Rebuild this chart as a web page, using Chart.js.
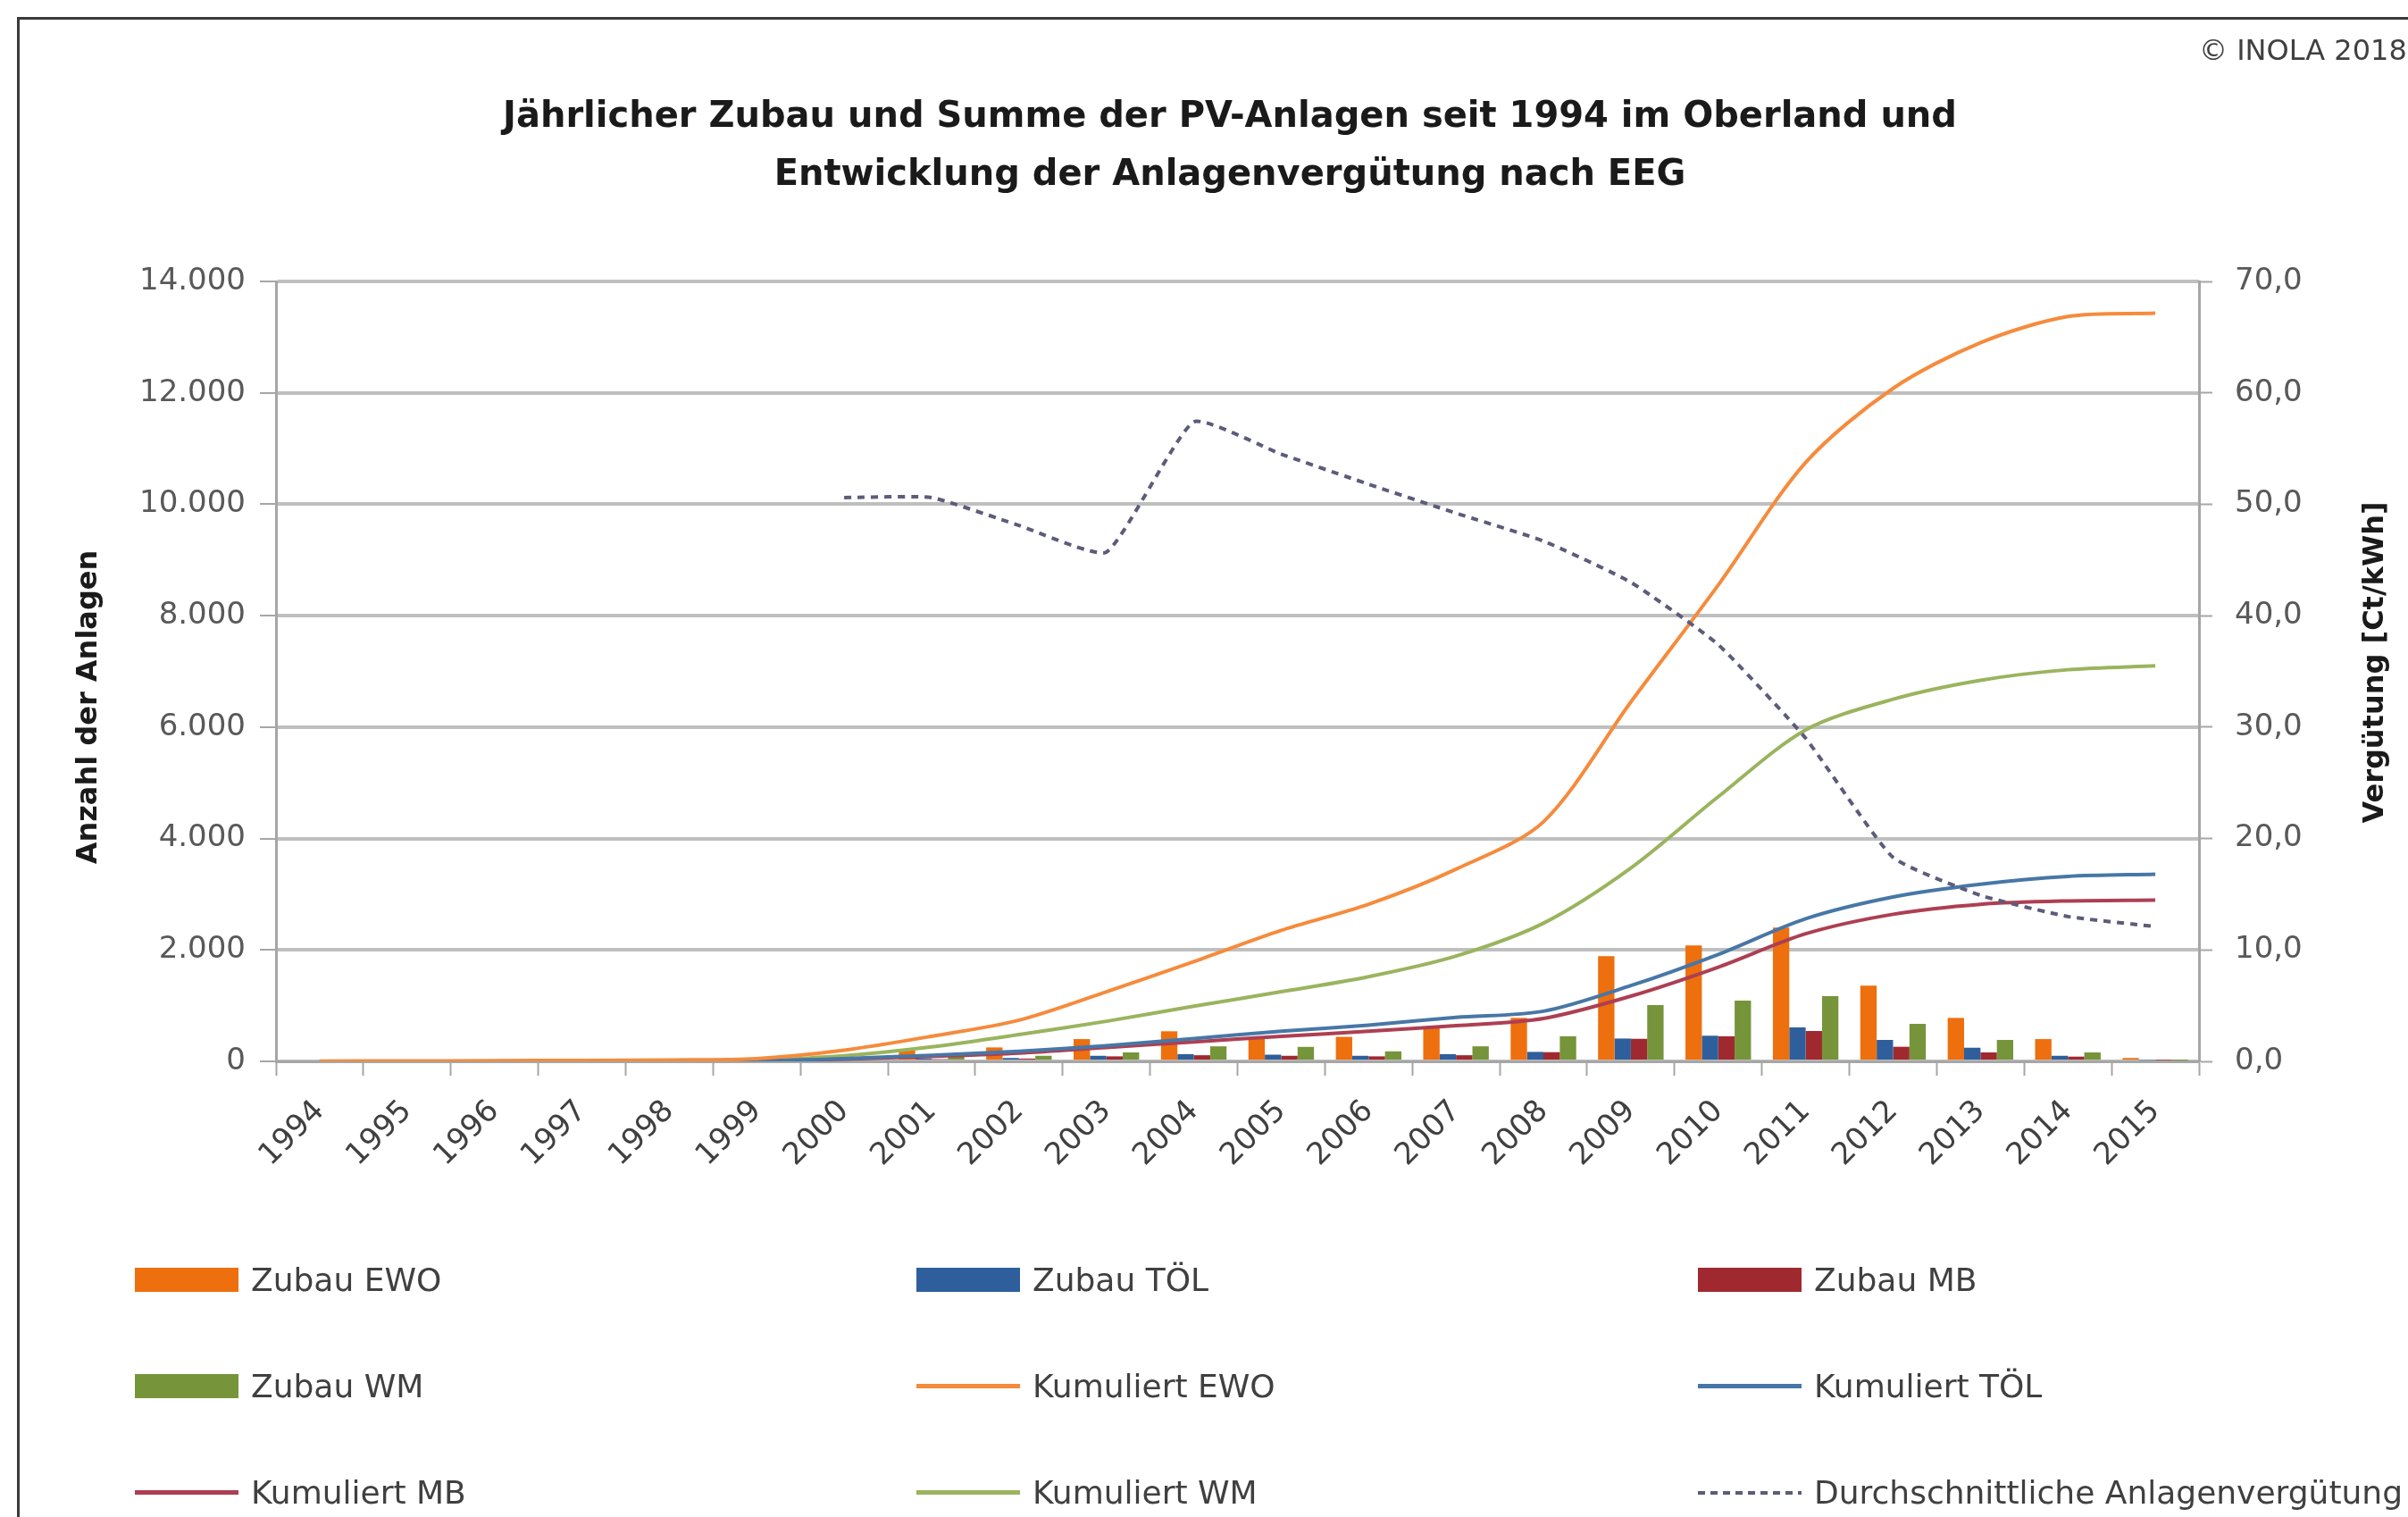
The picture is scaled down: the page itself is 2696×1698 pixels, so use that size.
<!DOCTYPE html>
<html lang="de">
<head>
<meta charset="utf-8">
<title>PV-Anlagen im Oberland</title>
<script src="https://cdn.jsdelivr.net/npm/chart.js@4.4.1/dist/chart.umd.min.js"></script>
<style>
  html, body { margin: 0; padding: 0; background: #fff; }
  body { width: 2696px; height: 1698px; position: relative; overflow: hidden; font-family: "DejaVu Sans", sans-serif; }
  .frame { position: absolute; left: 19px; top: 19px; width: 3000px; height: 3000px; border-top: 3px solid #3a3a3a; border-left: 3px solid #3a3a3a; }
  #pv-chart { position: absolute; left: 0; top: 0; }
  .copyright { position: absolute; left: 2462px; top: 37px; font-size: 32px; color: #404040; white-space: nowrap; }
  .legend { position: absolute; left: 151px; top: 1373px; display: grid; grid-template-columns: repeat(3, 875px); grid-auto-rows: 119px; }
  .legend .item { display: flex; align-items: center; }
  .legend .mark { width: 116px; margin-right: 14px; flex: none; }
  .legend .mark.bar { height: 27px; }
  .legend .mark.line { height: 5px; }
  .legend .mark.dash { height: 4px; background: repeating-linear-gradient(90deg, currentColor 0 8px, transparent 8px 14px); }
  .legend .label { font-size: 36px; color: #404040; white-space: nowrap; }
</style>
</head>
<body>
<div class="frame"></div>
<canvas id="pv-chart" width="2696" height="1698"></canvas>
<div class="copyright">© INOLA 2018</div>
<div class="legend" id="legend"></div>

<script>
const years = ["1994", "1995", "1996", "1997", "1998", "1999", "2000", "2001", "2002", "2003", "2004",
  "2005", "2006", "2007", "2008", "2009", "2010", "2011", "2012", "2013", "2014", "2015"];

// jaehrlicher Zubau
const zubauEWO = [0, 0, 0, 0, 0, 0, 100, 200, 250, 400, 540, 420, 440, 610, 780, 1890, 2080, 2400, 1360, 780, 400, 60];
const zubauTOEL = [0, 0, 0, 0, 0, 0, 30, 50, 60, 100, 130, 120, 100, 130, 170, 410, 460, 610, 385, 245, 100, 25];
const zubauMB = [0, 0, 0, 0, 0, 0, 30, 40, 50, 90, 110, 100, 90, 110, 165, 405, 450, 545, 262, 160, 85, 20];
const zubauWM = [0, 0, 0, 0, 0, 0, 60, 80, 100, 160, 270, 260, 180, 270, 450, 1010, 1090, 1170, 673, 385, 160, 15];

// kumuliert
const kumEWO = [5, 8, 12, 18, 26, 50, 200, 450, 740, 1250, 1790, 2350, 2820, 3450, 4300, 6450, 8550, 10750, 12080, 12900, 13370, 13430];
const kumTOEL = [0, 0, 0, 0, 5, 10, 50, 110, 180, 280, 410, 540, 650, 790, 900, 1360, 1920, 2560, 2950, 3180, 3320, 3360];
const kumMB = [0, 0, 0, 0, 3, 8, 40, 90, 150, 250, 350, 450, 540, 640, 770, 1170, 1690, 2290, 2640, 2820, 2880, 2895];
const kumWM = [0, 0, 0, 0, 5, 15, 100, 260, 480, 720, 990, 1250, 1520, 1890, 2480, 3470, 4750, 5950, 6500, 6840, 7030, 7100];

// Ct/kWh, rechte Achse
const verguetung = [null, null, null, null, null, null, 50.6, 50.6, 48.1, 45.7, 57.4, 54.5, 51.8, 49.2, 46.7, 43.0, 37.4, 29.0, 18.3, 14.9, 13.0, 12.1];

const titleLines = ["Jährlicher Zubau und Summe der PV-Anlagen seit 1994 im Oberland und", "Entwicklung der Anlagenvergütung nach EEG"];
const leftAxisTitle = "Anzahl der Anlagen";
const rightAxisTitle = "Vergütung [Ct/kWh]";

const tickFont = { family: "DejaVu Sans", size: 34 };
const axisGray = "#A6A6A6";

function formatThousands(v) {
  return String(v).replace(/\B(?=(\d{3})+(?!\d))/g, ".");
}

const axisTitlePlugin = {
  id: "axisTitles",
  afterDraw(chart) {
    const { ctx, chartArea } = chart;
    const midY = (chartArea.top + chartArea.bottom) / 2;
    const draw = (text, x, y) => {
      ctx.save();
      ctx.translate(x, y);
      ctx.rotate(-Math.PI / 2);
      ctx.fillText(text, 0, 0);
      ctx.restore();
    };
    ctx.save();
    ctx.font = "bold 32px 'DejaVu Sans'";
    ctx.fillStyle = "#1a1a1a";
    ctx.textAlign = "center";
    ctx.textBaseline = "middle";
    draw(leftAxisTitle, chartArea.left - 209, midY + 40);
    draw(rightAxisTitle, chartArea.right + 198, midY - 10);
    ctx.restore();
  },
};

function barSet(label, data, color) {
  return { type: "bar", label, data, backgroundColor: color, borderWidth: 0, order: 3, yAxisID: "y" };
}

function lineSet(label, data, color) {
  return {
    type: "line", label, data, borderColor: color, backgroundColor: color,
    borderWidth: 4, pointRadius: 0, tension: 0.3, order: 1, yAxisID: "y",
  };
}

function buildLegend(chart) {
  const box = document.getElementById("legend");
  box.innerHTML = chart.data.datasets
    .map((ds) => {
      let marker;
      if (ds.type === "bar") {
        marker = `<span class="mark bar" style="background:${ds.backgroundColor}"></span>`;
      } else if (ds.borderDash) {
        marker = `<span class="mark dash" style="color:${ds.borderColor}"></span>`;
      } else {
        marker = `<span class="mark line" style="background:${ds.borderColor}"></span>`;
      }
      return `<div class="item">${marker}<span class="label">${ds.label}</span></div>`;
    })
    .join("");
}

const ctx = document.getElementById("pv-chart").getContext("2d");
const chart = new Chart(ctx, {
  type: "bar",
  data: {
    labels: years,
    datasets: [
      barSet("Zubau EWO", zubauEWO, "#EE6F0E"),
      barSet("Zubau TÖL", zubauTOEL, "#2E5F9C"),
      barSet("Zubau MB", zubauMB, "#A0292F"),
      barSet("Zubau WM", zubauWM, "#76953A"),
      lineSet("Kumuliert EWO", kumEWO, "#F58B3C"),
      lineSet("Kumuliert TÖL", kumTOEL, "#4777A6"),
      lineSet("Kumuliert MB", kumMB, "#AD3F52"),
      lineSet("Kumuliert WM", kumWM, "#9AB45E"),
      {
        type: "line",
        label: "Durchschnittliche Anlagenvergütung",
        data: verguetung,
        borderColor: "#5C5C7A",
        borderWidth: 4,
        borderDash: [8, 7],
        pointRadius: 0,
        tension: 0.15,
        order: 0,
        yAxisID: "y1",
      },
    ],
  },
  options: {
    responsive: false,
    animation: false,
    // left padding is larger so the title centre sits where the original has it
    layout: { padding: { top: 20, left: 58, right: 0, bottom: 380 } },
    datasets: { bar: { categoryPercentage: 0.75, barPercentage: 1.0 } },
    plugins: {
      legend: { display: false },
      tooltip: { enabled: false },
      title: {
        display: true,
        text: titleLines,
        color: "#1a1a1a",
        font: { family: "DejaVu Sans", size: 40, weight: "bold", lineHeight: 1.625 },
        padding: { top: 79, bottom: 86 },
      },
    },
    scales: {
      x: {
        offset: true,
        grid: { offset: true, drawOnChartArea: false, tickLength: 16, tickColor: axisGray, tickWidth: 2 },
        border: { color: axisGray, width: 3 },
        ticks: { autoSkip: false, minRotation: 45, maxRotation: 45, font: tickFont, color: "#404040", padding: 20 },
        afterFit: (scale) => { scale.height = 130; },
      },
      y: {
        position: "left",
        min: 0,
        max: 14000,
        grid: { color: "#BFBFBF", lineWidth: 4, tickLength: 18, tickColor: axisGray, tickWidth: 2 },
        border: { color: axisGray, width: 3 },
        ticks: { stepSize: 2000, font: tickFont, color: "#595959", padding: 16, callback: (v) => formatThousands(v) },
        afterFit: (scale) => { scale.width = 251; },
      },
      y1: {
        position: "right",
        min: 0,
        max: 70,
        grid: { drawOnChartArea: false, tickLength: 15, tickColor: axisGray, tickWidth: 2 },
        border: { color: axisGray, width: 3 },
        ticks: { stepSize: 10, font: tickFont, color: "#595959", padding: 25, callback: (v) => v.toFixed(1).replace(".", ",") },
        afterFit: (scale) => { scale.width = 234; },
      },
    },
  },
  plugins: [axisTitlePlugin],
});

buildLegend(chart);
</script>
</body>
</html>
